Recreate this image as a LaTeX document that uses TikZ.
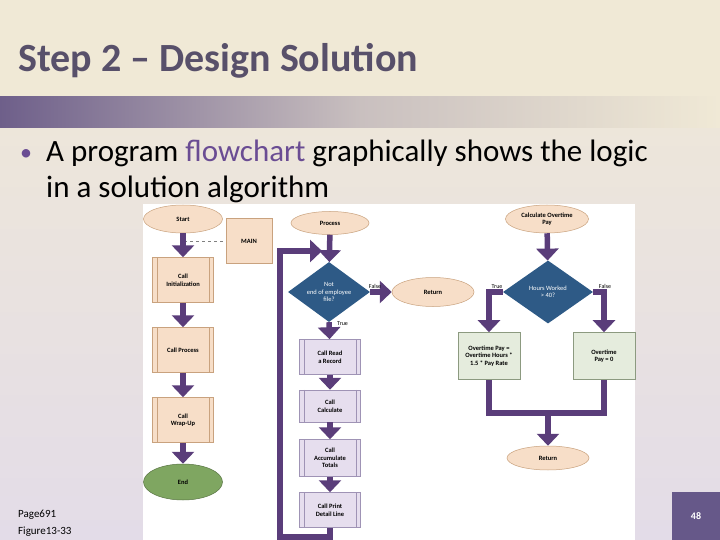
\documentclass[tikz,border=0pt]{standalone}
\usepackage{fontspec}
\setmainfont{Carlito}
\usetikzlibrary{shapes.geometric,arrows.meta}
\definecolor{cream}{HTML}{F0E9D6}
\definecolor{lav}{HTML}{E3DCE8}
\definecolor{band}{HTML}{6E5F8A}
\definecolor{titlec}{HTML}{58506A}
\definecolor{pur}{HTML}{5A3D7A}
\definecolor{flowc}{HTML}{6A4C93}
\definecolor{peach}{HTML}{F7DEC8}
\definecolor{peachd}{HTML}{C9A27E}
\definecolor{lil}{HTML}{E6DEEE}
\definecolor{lild}{HTML}{9F93B5}
\definecolor{grn}{HTML}{E5ECDD}
\definecolor{grnd}{HTML}{8C9A80}
\definecolor{endg}{HTML}{7FA661}
\definecolor{dblue}{HTML}{2E5A86}
\definecolor{numbox}{HTML}{665889}
\tikzset{
  fl/.style={font=\fontsize{6.5}{7.5}\selectfont\bfseries, align=center, inner sep=0pt},
  oval/.style={fl, ellipse, draw=peachd, fill=peach, line width=0.5pt},
  ppbox/.style={fl, rectangle, draw=peachd, fill=peach, line width=0.5pt},
  lbox/.style={fl, rectangle, draw=lild, fill=lil, line width=0.5pt},
  gbox/.style={fl, rectangle, draw=grnd, fill=grn, line width=0.6pt},
  dia/.style={fl, diamond, fill=dblue, text=white, font=\fontsize{6.5}{7.5}\selectfont},
  flow/.style={draw=pur, line width=5.5pt},
  arr/.style={flow, -{Triangle[width=22pt,length=12pt]}},
  lab/.style={font=\fontsize{6}{7}\selectfont, inner sep=1pt},
}
\begin{document}
\begin{tikzpicture}[x=1pt,y=-1pt]
\useasboundingbox (0,0) rectangle (720,540);
% background
\shade[top color=cream, bottom color=lav] (0,0) rectangle (720,540);
\fill[cream] (0,0) rectangle (720,97);
\shade[left color=band, right color=cream, middle color=band!30!cream] (0,97) rectangle (720,128);
% title and text
\node[anchor=base west, inner sep=0pt, text=titlec, font=\fontsize{40}{44}\selectfont\bfseries] (title) at (18,72) {Step 2 – Design Solution};
\node[anchor=base west, inner sep=0pt, font=\fontsize{24}{28}\selectfont, text=flowc] (bul) at (20,161) {•};
\node[anchor=base west, inner sep=0pt, font=\fontsize{31}{34}\selectfont] (b1) at (46,162) {A program \textcolor{flowc}{flowchart} graphically shows the logic};
\node[anchor=base west, inner sep=0pt, font=\fontsize{31}{34}\selectfont] (b2) at (46,197) {in a solution algorithm};
% white picture area
\fill[white] (143,204) rectangle (635,540);
% bottom labels
\node[anchor=base west, inner sep=0pt, font=\fontsize{11}{12}\selectfont] (pg) at (18,517) {Page691};
\node[anchor=base west, inner sep=0pt, font=\fontsize{11}{12}\selectfont] (fg) at (18,534) {Figure13-33};
\fill[numbox] (672,492) rectangle (720,540);
\node[text=white, font=\fontsize{10}{12}\selectfont\bfseries] (num) at (696,516) {48};

% ---- MAIN column
\node[oval, minimum width=79pt, minimum height=28pt] (start) at (183,219) {Start};
\node[ppbox, minimum width=46pt, minimum height=45pt] (main) at (249,241) {MAIN};
\node[ppbox, minimum width=61pt, minimum height=45pt] (init) at (183,280) {Call\\Initialization};
\node[ppbox, minimum width=61pt, minimum height=45pt] (proc) at (183,350) {Call Process};
\node[ppbox, minimum width=61pt, minimum height=45pt] (wrap) at (183,420) {Call\\Wrap-Up};
\node[fl, ellipse, fill=endg, draw=endg!70!black, line width=0.5pt, minimum width=79pt, minimum height=36pt] (end) at (183,482) {End};
\foreach \n in {init,proc,wrap}{
  \draw[peachd, line width=0.5pt] ([xshift=5pt]\n.north west) -- ([xshift=5pt]\n.south west);
  \draw[peachd, line width=0.5pt] ([xshift=-5pt]\n.north east) -- ([xshift=-5pt]\n.south east);
}
\coordinate (dm) at (184,241);
\draw[gray, dashed, line width=0.5pt] (dm) -- (main.west);
\draw[arr] (start) -- (init);
\draw[arr] (init) -- (proc);
\draw[arr] (proc) -- (wrap);
\draw[arr] (wrap) -- (end);

% ---- PROCESS column
\node[oval, minimum width=78pt, minimum height=23pt] (process) at (330,223) {Process};
\node[dia, minimum width=82pt, minimum height=60pt, aspect=1.37] (notend) at (329,292) {Not\\end of employee\\file?};
\node[oval, minimum width=82pt, minimum height=29pt] (ret1) at (433,292) {Return};
\node[lbox, minimum width=61pt, minimum height=35pt] (read) at (330,357) {Call Read\\a Record};
\node[lbox, minimum width=61pt, minimum height=32pt] (calc) at (330,406) {Call\\Calculate};
\node[lbox, minimum width=61pt, minimum height=37pt] (acc) at (330,458) {Call\\Accumulate\\Totals};
\node[lbox, minimum width=61pt, minimum height=35pt] (prt) at (330,510) {Call Print\\Detail Line};
\foreach \n in {read,calc,acc,prt}{
  \draw[lild, line width=0.5pt] ([xshift=5pt]\n.north west) -- ([xshift=5pt]\n.south west);
  \draw[lild, line width=0.5pt] ([xshift=-5pt]\n.north east) -- ([xshift=-5pt]\n.south east);
}
\coordinate (lp) at (330,251);
\draw[arr] (process) -- (notend);
\draw[arr] (notend.east) -- (ret1);
\node[lab, anchor=south] (fl1) at (375,290) {False};
\draw[arr] (notend.south) -- (read);
\node[lab, anchor=west] (tr1) at (336,324) {True};
\draw[arr] (read) -- (calc);
\draw[arr] (calc) -- (acc);
\draw[arr] (acc) -- (prt);
\draw[arr] (prt.south) -- ++(0,9) -| (280,251) -- ([xshift=-8pt]lp);

% ---- OVERTIME column
\node[oval, minimum width=83pt, minimum height=28pt] (cop) at (547,219) {Calculate Overtime\\Pay};
\node[dia, minimum width=90pt, minimum height=63pt, aspect=1.43] (hw) at (548,292) {Hours Worked\\> 40?};
\node[gbox, minimum width=62pt, minimum height=47pt] (otp) at (489,356) {Overtime Pay =\\Overtime Hours *\\1.5 * Pay Rate};
\node[gbox, minimum width=62pt, minimum height=47pt] (ot0) at (604,356) {Overtime\\Pay = 0};
\node[oval, minimum width=82pt, minimum height=24pt] (ret2) at (548,458) {Return};
\draw[arr] (cop) -- (hw);
\draw[arr] (hw.west) -| (otp.north);
\draw[arr] (hw.east) -| (ot0.north);
\node[lab, anchor=south] (tr2) at (497,290) {True};
\node[lab, anchor=south] (fl2) at (605,290) {False};
\coordinate (mg) at (548,413);
\draw[flow] (otp.south) |- (mg) -| (ot0.south);
\draw[arr] ([yshift=-2.75pt]mg) -- (ret2);
\end{tikzpicture}
\end{document}
